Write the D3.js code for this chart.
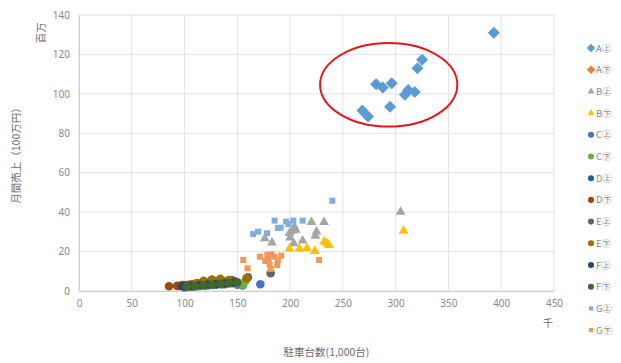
<!DOCTYPE html>
<html>
<head>
<meta charset="utf-8">
<script src="https://cdn.jsdelivr.net/npm/d3@7/dist/d3.min.js"></script>
<style>
  html, body { margin: 0; padding: 0; background: #fff; }
  svg { display: block; font-family: "Noto Sans CJK JP", "Noto Sans", sans-serif; }
</style>
</head>
<body>
<svg id="chart" width="621" height="363"></svg>
<script>
// Axis ticks
const xTicks = [0, 50, 100, 150, 200, 250, 300, 350, 400, 450];
const yTicks = [0, 20, 40, 60, 80, 100, 120, 140];

// Series names (legend order)
const seriesNames = ["A㊤", "A㊦", "B㊤", "B㊦", "C㊤", "C㊦", "D㊤", "D㊦", "E㊤", "E㊦", "F㊤", "F㊦", "G㊤", "G㊦"];

// Parked cars (thousands) and monthly sales (million yen) per series
const aUpX = [325, 320.6, 281.5, 287.8, 296.3, 308.7, 311.9, 318.1, 294.7, 268.4, 273.8, 393];
const aUpY = [117.3, 113, 104.9, 103.2, 105.4, 99.5, 102, 100.9, 93.5, 91.5, 88.5, 131];
const aDnX = [];
const aDnY = [];
const bUpX = [220.3, 232.2, 225, 204, 202.5, 205.3, 199.4, 176, 182.8, 203.4, 211.9, 304.7, 200, 224];
const bUpY = [34.9, 34.9, 30.1, 32.6, 30.5, 31, 29.3, 26.7, 24.5, 24.2, 25.5, 40.1, 27, 28];
const bDnX = [199.4, 208.8, 215.9, 223.4, 232.2, 234.7, 236.9, 307.5];
const bDnY = [21.5, 21.5, 21.7, 20.2, 25, 24.2, 23.3, 30.5];
const cUpX = [100, 108, 115, 122, 130, 138, 145, 150, 155, 171.8];
const cUpY = [1.8, 2.2, 2.5, 2.8, 3.2, 3.5, 4.0, 3.2, 2.8, 3.4];
const cDnX = [105, 112, 120, 128, 135, 140, 148, 155.6, 158];
const cDnY = [2, 2.3, 2.6, 3, 3.3, 3.6, 4.2, 3, 5.5];
const dUpX = [95, 103, 110, 118, 125, 133, 140, 147];
const dUpY = [2.5, 2.8, 3, 3.3, 3.6, 4, 4.5, 5];
const dDnX = [85.3, 93, 98, 104, 110, 117, 124, 130];
const dDnY = [2.4, 2.6, 3, 3.2, 3.5, 3.8, 4.1, 4.4];
const eUpX = [100, 110, 120, 128, 135, 143, 144.7, 160, 181.6];
const eUpY = [3, 3.5, 4, 4.5, 5, 5.4, 5.6, 7, 9];
const eDnX = [107, 112, 116, 120, 124, 127, 130, 133, 136, 139, 142, 118, 126, 134, 158.7];
const eDnY = [3.5, 4, 3.8, 4.3, 4.8, 4.5, 5, 4.6, 5.2, 4.8, 5.5, 5.2, 5.8, 6.2, 6.4];
const fUpX = [98, 106, 114, 122, 130, 138, 146];
const fUpY = [2.4, 2.6, 3, 3.3, 3.5, 3.8, 4.2];
const fDnX = [102, 110, 118, 126, 134, 142, 150];
const fDnY = [2.2, 2.5, 2.9, 3.2, 3.6, 4, 4.4];
const gUpX = [240, 185.3, 196.2, 198.4, 203.1, 211.9, 188.4, 191, 169.7, 165, 178.1];
const gUpY = [45.8, 35.7, 35.2, 34, 35.7, 35.7, 32, 32.1, 30.1, 28.9, 29.3];
const gDnX = [155.6, 159.7, 171.3, 178.4, 182.2, 179.7, 176.5, 185.3, 188.4, 191.6, 180.6, 187.8, 227.5, 181.6];
const gDnY = [15.7, 11.5, 17.4, 18.3, 18.6, 16.2, 15.2, 17.4, 15.7, 17.9, 13.2, 13.2, 15.7, 11.2];

// Highlighted region (centre and radii in data units)
const highlightCx = 293.4, highlightCy = 104.6, highlightRx = 65, highlightRy = 21.2;

const seriesX = [aUpX, aDnX, bUpX, bDnX, cUpX, cDnX, dUpX, dDnX, eUpX, eDnX, fUpX, fDnX, gUpX, gDnX];
const seriesY = [aUpY, aDnY, bUpY, bDnY, cUpY, cDnY, dUpY, dDnY, eUpY, eDnY, fUpY, fDnY, gUpY, gDnY];
const colors = ["#5B9BD5", "#ED7D31", "#A5A5A5", "#FFC000", "#4472C4", "#70AD47",
                "#255E91", "#9E480E", "#636363", "#997300", "#264478", "#43682B",
                "#7CAFDD", "#F1975A"];
const shapes = ["diamond", "diamond", "triangle", "triangle", "circle", "circle",
                "circle", "circle", "circle", "circle", "circle", "circle",
                "square", "square"];

const series = seriesNames.map((name, i) => ({
  name, color: colors[i], shape: shapes[i],
  points: seriesX[i].map((x, j) => ({ x, y: seriesY[i][j] }))
}));

const svg = d3.select("#chart");
const margin = { left: 79, right: 67, top: 15, bottom: 72 };
const W = 621, H = 363;

const x = d3.scaleLinear().domain([0, 450]).range([margin.left, W - margin.right]);
const y = d3.scaleLinear().domain([0, 140]).range([H - margin.bottom, margin.top]);

const symbolType = {
  triangle: d3.symbolTriangle,
  circle: d3.symbolCircle,
  square: d3.symbolSquare
};
const symbolSize = { diamond: 72, triangle: 42, circle: 58, square: 36 };
function sym(shape, scale = 1) {
  if (shape === "diamond") {
    // square, rotated 45° where it is placed
    return d3.symbol().type(d3.symbolSquare).size(symbolSize.diamond * scale)();
  }
  return d3.symbol().type(symbolType[shape]).size(symbolSize[shape] * scale)();
}

// Gridlines
const grid = svg.append("g");
grid.selectAll("line.h").data(yTicks).join("line")
  .attr("x1", x(0)).attr("x2", x(450))
  .attr("y1", d => y(d)).attr("y2", d => y(d))
  .attr("stroke", "#e3e3e3").attr("stroke-width", 1);
grid.selectAll("line.v").data(xTicks).join("line")
  .attr("y1", y(0)).attr("y2", y(140))
  .attr("x1", d => x(d)).attr("x2", d => x(d))
  .attr("stroke", "#e3e3e3").attr("stroke-width", 1);

// Axes
const xAxis = d3.axisBottom(x).tickValues(xTicks).tickSize(0).tickPadding(9);
const yAxis = d3.axisLeft(y).tickValues(yTicks).tickSize(0).tickPadding(9);
const gx = svg.append("g").attr("transform", `translate(0,${y(0)})`).call(xAxis);
const gy = svg.append("g").attr("transform", `translate(${x(0)},0)`).call(yAxis);
[gx, gy].forEach(g => {
  g.select(".domain").attr("stroke", "#cfcfcf");
  g.selectAll("text").attr("fill", "#8a8a8a").attr("font-size", 10)
    .attr("font-family", "'Noto Sans', sans-serif");
});

// Points
const pts = svg.append("g");
series.forEach(s => {
  pts.selectAll(null).data(s.points).join("path")
    .attr("d", sym(s.shape))
    .attr("transform", d => `translate(${x(d.x)},${y(d.y)})` + (s.shape === "diamond" ? " rotate(45)" : ""))
    .attr("fill", s.color);
});

// Highlight ellipse
svg.append("ellipse")
  .attr("cx", x(highlightCx)).attr("cy", y(highlightCy))
  .attr("rx", x(highlightCx + highlightRx) - x(highlightCx))
  .attr("ry", y(highlightCy) - y(highlightCy + highlightRy))
  .attr("fill", "none").attr("stroke", "#E8141B").attr("stroke-width", 2);

// Axis titles and unit labels
svg.append("text")
  .attr("transform", `translate(20,${(y(0) + y(140)) / 2}) rotate(-90)`)
  .attr("text-anchor", "middle").attr("font-size", 10.5).attr("fill", "#6b6b6b")
  .text("月間売上（100万円）");
svg.append("text")
  .attr("transform", `translate(45,${y(131)}) rotate(-90)`)
  .attr("text-anchor", "middle").attr("font-size", 10.5).attr("fill", "#6b6b6b")
  .text("百万");
svg.append("text")
  .attr("x", (x(0) + x(450)) / 2 + 10).attr("y", 356)
  .attr("text-anchor", "middle").attr("font-size", 10.5).attr("fill", "#6b6b6b")
  .text("駐車台数(1,000台)");
svg.append("text")
  .attr("x", x(450) - 6).attr("y", 327)
  .attr("text-anchor", "middle").attr("font-size", 10).attr("fill", "#6b6b6b")
  .text("千");

// Legend
const legend = svg.append("g").attr("transform", "translate(591,48)");
const item = legend.selectAll("g").data(series).join("g")
  .attr("transform", (d, i) => `translate(0,${i * 21.7})`);
item.append("path")
  .attr("d", d => sym(d.shape, 0.5))
  .attr("transform", d => d.shape === "diamond" ? "rotate(45)" : null)
  .attr("fill", d => d.color);
item.append("text")
  .attr("x", 5).attr("y", 3.5)
  .attr("font-size", 9.5).attr("fill", "#8a8a8a")
  .text(d => d.name);
</script>
</body>
</html>
